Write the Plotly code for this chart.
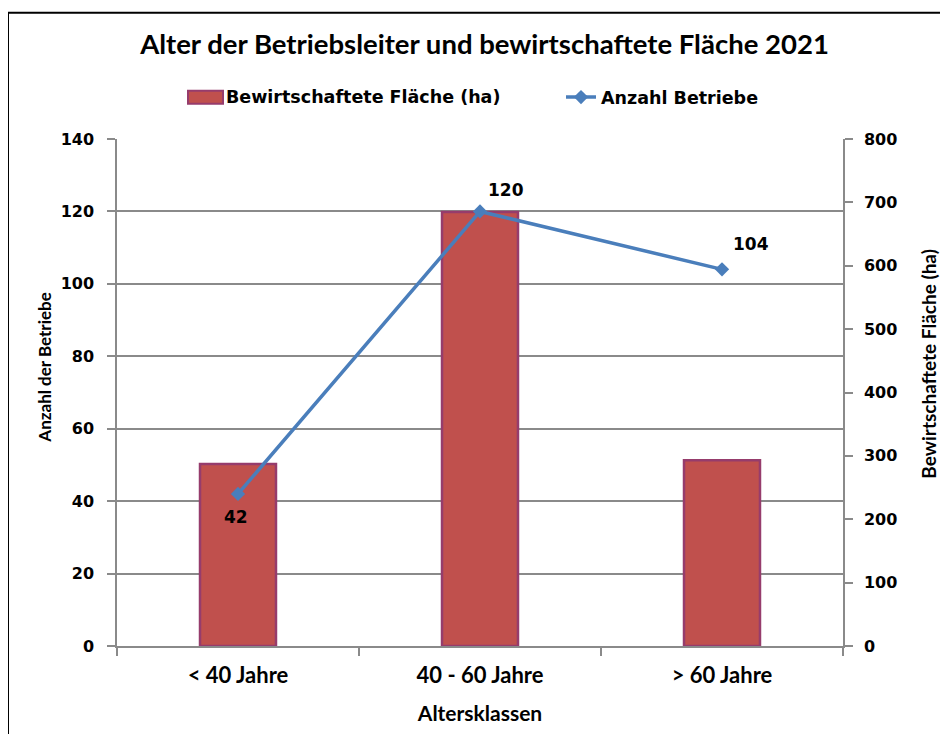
import plotly.graph_objects as go

categories = ["< 40 Jahre", "40 - 60 Jahre", "> 60 Jahre"]
flaeche_ha = [287, 685, 293]
anzahl_betriebe = [42, 120, 104]
left_ticks = [0, 20, 40, 60, 80, 100, 120, 140]
right_ticks = [0, 100, 200, 300, 400, 500, 600, 700, 800]
bar_name = "Bewirtschaftete Fläche (ha)"
line_name = "Anzahl Betriebe"

HUMAN = "Lato, Open Sans, sans-serif"
WIDE = "DejaVu Sans, Verdana, sans-serif"
GRID = "#8a8a8a"
BAR_FILL = "#C0504D"
BAR_EDGE = "#963C6C"

# the page body has an 8px margin: the figure sits at (8, 8) in the window
FW, FH = 940, 726
OFF = 8
PL, PR, PT, PB = 117, 843, 139, 649  # plot area in window pixels


def px_x(x):
    return (x - PL) / (PR - PL)


def px_y(y):
    return (PB - y) / (PB - PT)


fig = go.Figure()
fig.add_trace(go.Bar(
    x=categories, y=flaeche_ha, name=bar_name,
    yaxis="y", marker=dict(color=BAR_FILL, line=dict(color=BAR_EDGE, width=2.5)),
    showlegend=False,
))
fig.add_trace(go.Scatter(
    x=categories, y=anzahl_betriebe, name=line_name, yaxis="y2",
    mode="lines+markers", line=dict(color="#4A7EBB", width=3.5),
    marker=dict(symbol="diamond", size=11, color="#4A7EBB"),
    showlegend=True,
))

label_shift = [(-2, -23), (26, 21), (29, 25)]
for c, v, (dx, dy) in zip(categories, anzahl_betriebe, label_shift):
    fig.add_annotation(x=c, y=v, xref="x", yref="y2", text=str(v), showarrow=False,
                       xshift=dx, yshift=dy,
                       font=dict(family=WIDE, size=17, color="black", weight="bold"))

# axis titles for the two value axes (placed like the original, above the axis centre)
fig.add_annotation(text="Anzahl der Betriebe", xref="paper", yref="paper",
                   x=px_x(45), y=px_y(369), textangle=-90, showarrow=False,
                   xanchor="center", yanchor="middle",
                   font=dict(family=HUMAN, size=17, color="black", weight="bold"))
fig.add_annotation(text="Bewirtschaftete Fläche (ha)", xref="paper", yref="paper",
                   x=px_x(929), y=px_y(365), textangle=-90, showarrow=False,
                   xanchor="center", yanchor="middle",
                   font=dict(family=HUMAN, size=19, color="black", weight="bold"))

# legend entry for the bars (wide swatch like the original)
fig.add_annotation(text=bar_name, xref="paper", yref="paper",
                   x=px_x(224), y=px_y(97), showarrow=False,
                   xanchor="left", yanchor="middle",
                   font=dict(family=WIDE, size=17.5, color="black", weight="bold"))

fig.update_layout(
    width=FW, height=FH,
    margin=dict(l=PL - OFF, r=OFF + FW - PR, t=PT - OFF, b=OFF + FH - PB),
    paper_bgcolor="white", plot_bgcolor="white",
    bargap=0.686,
    showlegend=True,
    title=dict(text="Alter der Betriebsleiter und bewirtschaftete Fläche 2021",
               x=(484.5 - OFF) / FW, xref="container", xanchor="center",
               y=1 - (44 - OFF) / FH, yref="container", yanchor="middle",
               font=dict(family=HUMAN, size=27.5, color="black", weight="bold")),
    xaxis=dict(
        showline=True, linecolor=GRID, linewidth=1.5,
        ticks="outside", tickson="boundaries", ticklen=8, tickcolor=GRID, tickwidth=1.5,
        ticklabelstandoff=9,
        tickfont=dict(family=HUMAN, size=22, color="black", weight="bold"),
        title=dict(text="Altersklassen", standoff=19,
                   font=dict(family=HUMAN, size=21, color="black", weight="bold")),
        showgrid=False,
    ),
    yaxis=dict(
        side="right", range=[0, 800], tickvals=right_ticks,
        showline=True, linecolor=GRID, linewidth=1.5,
        ticks="outside", ticklen=8, tickcolor=GRID, tickwidth=1.5,
        ticklabelstandoff=8,
        tickfont=dict(family=WIDE, size=16, color="black", weight="bold"),
        showgrid=False, zeroline=False,
    ),
    yaxis2=dict(
        overlaying="y", side="left", range=[0, 140], tickvals=left_ticks,
        showline=True, linecolor=GRID, linewidth=1.5,
        ticks="outside", ticklen=8, tickcolor=GRID, tickwidth=1.5,
        ticklabelstandoff=10,
        tickfont=dict(family=WIDE, size=16, color="black", weight="bold"),
        showgrid=True, gridcolor=GRID, gridwidth=1.5, zeroline=False,
    ),
    legend=dict(orientation="h", x=px_x(561), xanchor="left",
                y=px_y(97), yanchor="middle",
                font=dict(family=WIDE, size=17.5, color="black", weight="bold"),
                bgcolor="rgba(0,0,0,0)"),
    shapes=[
        dict(type="rect", xref="paper", yref="paper",
             x0=px_x(8), x1=1.3, y0=-0.4, y1=px_y(12),
             line=dict(color="black", width=2), fillcolor="rgba(0,0,0,0)", layer="below"),
        dict(type="rect", xref="paper", yref="paper",
             x0=px_x(188), x1=px_x(223), y0=px_y(103.5), y1=px_y(90.5),
             line=dict(color=BAR_EDGE, width=2), fillcolor=BAR_FILL, layer="above"),
    ],
)

fig.write_html("out.html")
